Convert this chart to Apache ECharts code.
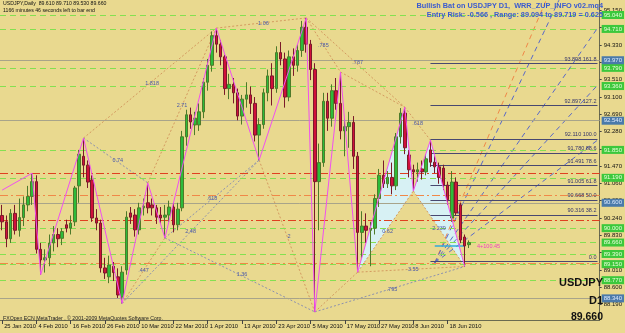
<!DOCTYPE html>
<html><head><meta charset="utf-8">
<script src="https://cdn.jsdelivr.net/npm/echarts@6/dist/echarts.min.js"></script>
<style>html,body{margin:0;padding:0;background:#E9D98F}#c{width:625px;height:333px}</style>
</head><body><div id="c"></div>
<script>
// ---- data ----
const startDate = '2010-01-25';
const slotCount = 140; // bars + right shift space
// OHLC (open, high, low, close) per daily bar from 25 Jan 2010
const opens  = [90.30,90.15,89.75,90.35,89.95,90.25,90.55,90.75,91.10,89.50,89.25,89.30,89.65,89.85,89.76,90.08,90.00,90.15,91.00,91.70,91.49,91.14,90.24,90.12,89.06,88.85,89.10,88.85,88.37,89.01,90.36,90.31,89.96,90.48,90.60,90.55,90.48,90.31,90.26,90.31,90.50,90.08,90.48,92.16,92.68,92.44,92.44,92.75,93.45,93.85,94.55,94.35,94.05,93.30,93.40,93.20,92.65,93.05,93.15,92.95,92.20,92.45,93.20,93.60,93.30,94.15,94.00,93.10,94.05,93.85,94.20,94.75,94.35,93.75,91.10,91.55,93.00,92.60,93.25,92.95,92.30,92.40,92.50,91.70,89.90,90.05,89.95,90.00,90.70,91.25,91.05,91.20,91.00,92.16,92.72,91.73,91.38,91.33,91.40,91.33,91.85,91.56,91.45,91.42,91.02,90.24,91.09,90.55,89.79,89.61];
const highs  = [90.55,90.30,90.45,90.55,90.70,90.75,91.00,91.30,91.25,89.65,89.50,89.85,90.05,90.00,90.00,90.20,90.30,91.00,91.85,92.13,91.60,91.25,90.45,90.20,89.30,89.35,89.20,89.05,89.10,90.40,90.50,90.45,90.60,90.70,91.07,90.70,90.55,90.50,90.55,90.65,90.60,90.60,92.30,92.80,92.85,92.75,92.95,93.55,94.00,94.65,94.73,94.45,94.10,93.65,93.55,93.30,93.15,93.45,93.35,93.10,92.60,93.30,93.75,93.90,94.30,94.40,94.15,94.20,94.25,94.35,94.90,94.97,94.45,93.90,92.00,93.20,93.20,93.40,93.55,93.69,92.60,92.75,92.65,91.80,90.40,90.35,90.15,90.80,91.40,91.60,91.35,91.55,92.25,92.84,92.86,91.85,91.50,91.55,91.60,91.75,92.08,91.70,91.55,91.50,91.10,91.35,91.20,90.60,89.85,89.71];
const lows   = [89.95,89.55,89.65,89.85,89.80,90.05,90.40,90.55,89.40,88.90,88.95,89.10,89.45,89.55,89.60,89.90,89.85,90.05,90.60,91.20,90.95,90.15,89.95,88.95,88.80,88.70,88.75,88.35,88.22,88.90,90.10,89.80,89.85,90.30,90.35,90.30,90.10,90.10,89.77,90.15,89.90,89.95,90.40,91.95,92.35,92.20,92.30,92.60,93.25,93.70,94.15,93.85,93.15,93.05,92.95,92.55,92.45,92.85,92.70,92.05,91.61,92.35,93.00,92.90,93.20,93.85,92.85,93.00,93.60,93.70,94.05,94.15,93.50,88.02,89.95,91.45,92.30,92.40,92.80,92.10,91.70,91.90,91.40,88.96,89.30,89.65,89.10,89.85,90.50,90.95,90.95,90.80,90.90,92.00,91.75,91.20,90.88,91.10,91.15,91.25,91.45,91.30,91.05,90.90,90.55,90.15,90.30,89.65,89.094,89.53];
const closes = [90.15,89.75,90.35,89.95,90.25,90.55,90.75,91.10,89.50,89.25,89.30,89.65,89.85,89.75,89.92,90.00,90.12,90.95,91.75,91.49,91.09,90.24,90.12,89.06,88.94,89.13,88.95,88.42,88.96,90.26,90.26,89.96,90.48,90.52,90.48,90.48,90.26,90.24,90.31,90.50,90.08,90.45,92.16,92.68,92.51,92.60,92.75,93.45,93.85,94.55,94.35,94.05,93.30,93.40,93.20,92.65,93.05,93.15,92.95,92.20,92.45,93.20,93.60,93.30,94.15,94.00,93.10,94.05,93.85,94.20,94.75,94.35,93.75,91.10,91.55,93.00,92.60,93.25,92.95,92.30,92.40,92.50,91.70,89.90,90.05,89.95,90.00,90.70,91.25,91.05,91.20,91.00,92.16,92.72,91.90,91.38,91.33,91.38,91.33,91.64,91.56,91.45,91.20,91.02,90.67,91.09,90.36,89.72,89.58,89.66];
// ZigZag pivots (bar index, price)
const zzIdx   = [0,7,9,19,28,34,38,50,60,71,73,79,83,94,96,100,108];
const zzPrice = [90.90,91.30,88.90,92.13,88.22,91.07,89.77,94.73,91.61,94.97,88.02,93.69,88.96,92.86,90.88,92.08,89.094];
// bat pattern points X A B C D as ZigZag pivot numbers
const batPivots = [12,13,14,15,16];
// ZUP ratio lines: from pivot, to pivot, label
const ratioFrom  = [3,4,5,6,7,8,9,10,11,12,13,14,3,4,6,9,12,10];
const ratioTo    = [5,6,7,8,9,10,11,12,13,14,15,16,7,8,10,13,16,16];
const ratioText  = ['0.74','.447','2.71','.618','1.06','2','.785','','','0.62','.618','2.239','1.818','2.48','1.36','.787','3.55','.795'];
const ratioBlue  = [1,0,0,1,0,0,0,0,0,0,0,0,0,1,1,0,0,1];
// price axis tick labels
const priceTicks = [95.150,94.740,94.330,93.920,93.510,93.100,92.690,92.280,91.870,91.470,91.060,90.650,90.240,89.830,89.420,89.010,88.600,88.190];
// horizontal levels
const greenLevels = [95.04,94.71,93.79,93.36,91.85,91.19,90.00,89.39,89.15,88.77,87.81];
const bidLevel = 89.660;
const grayLevels = [93.97,92.54,90.60,88.34];
const redLevels = [91.31,90.19];
const orangeLevels = [90.78,89.17];
const fibPrices = [93.898,92.897,92.110,91.780,91.491,91.005,90.668,90.316,89.217];
const fibTexts  = ['93.898 161.8','92.897 127.2','92.110 100.0','91.780 88.6','91.491 78.6','91.005 61.8','90.668 50.0','90.316 38.2','0.0'];
const fibStart = 100;
// dashed fan lines [i1,p1,i2,p2]
const orangeRays = [[100.6,89.18,126.7,95.39]];
const blueRays = [[100.6,89.18,130.4,95.39],[100.6,89.18,139.4,94.73],[100.6,89.18,139.4,93.38],[100.6,89.18,139.4,92.08]];
// entry marker near D
const entryLine = [100.6,108.2,89.58];
const entryText = '4+100.45';

// ---- build ----
const mon = ['Jan','Feb','Mar','Apr','May','Jun','Jul','Aug','Sep','Oct','Nov','Dec'];
const categories = [];
{ let d = new Date(startDate+'T12:00:00Z');
  while (categories.length < slotCount) {
    const wd = d.getUTCDay();
    if (wd !== 0 && wd !== 6) categories.push(d.getUTCDate()+' '+mon[d.getUTCMonth()]+' '+d.getUTCFullYear());
    d = new Date(d.getTime()+86400000);
  } }
const barCount = opens.length;
const ohlc = opens.map((o,i)=>[o, closes[i], lows[i], highs[i]]);
const zz = zzIdx.map((x,i)=>[x, zzPrice[i]]);
const bat = batPivots.map(k=>zz[k]);
const tris = [[bat[0],bat[1],bat[2]],[bat[2],bat[3],bat[4]]];
const F = 'Liberation Sans, Arial, sans-serif';
const lastIdx = slotCount-1;

const hl = (p, color, type) => ({yAxis:p, lineStyle:{color, type, width:1}, label:{show:false}});
const boxLabel = (p,bg,fg)=>({show:true,position:'end',distance:2,formatter:p.toFixed(3),color:fg,backgroundColor:bg,fontSize:6,fontFamily:F,padding:[1,2]});
const markData = [];
greenLevels.forEach(p=>markData.push({yAxis:p, lineStyle:{color:'#84E050',type:[6,4],width:1}, label:boxLabel(p,'#3CC83C','#E8FFD8')}));
markData.push({yAxis:bidLevel, lineStyle:{color:'#84E050',type:[6,4],width:1}, label:boxLabel(bidLevel,'#3CC83C','#E8FFD8')});
grayLevels.forEach(p=>markData.push({yAxis:p, lineStyle:{color:'#A8A48A',type:'solid',width:1}, label:boxLabel(p,'#4A7AAA','#E0ECFF')}));
redLevels.forEach(p=>markData.push(hl(p,'#E04020',[8,3,2,3])));
orangeLevels.forEach(p=>markData.push(hl(p,'#F08848',[8,3,2,3])));
fibPrices.forEach((p,i)=>markData.push([
  {coord:[fibStart,p], lineStyle:{color:'#484870',type:'solid',width:1},
   label:{show:true,position:'insideEndTop',formatter:fibTexts[i],color:'#34346A',fontSize:5.5,fontFamily:F,distance:1}},
  {coord:[lastIdx,p]}]));
markData.push([{coord:[entryLine[0],entryLine[2]], lineStyle:{color:'#30A8D8',type:'solid',width:1.5}, label:{show:false}},{coord:[entryLine[1],entryLine[2]]}]);

const rayLine = (r,color)=>({type:'line', data:[[r[0],r[1]],[r[2],r[3]]], symbol:'none', silent:true,
  lineStyle:{color, type:[5,4], width:1}, z:3});
const ratioSeries = ratioFrom.map((a,j)=>({type:'line', data:[zz[a], zz[ratioTo[j]]], symbol:'none', silent:true, z:2,
  lineStyle:{color: ratioBlue[j] ? '#8A90B0' : '#D49A60', type:[2,2], width:1},
  markPoint: ratioText[j] ? {symbol:'rect', symbolSize:0, silent:true,
    data:[{coord:[(zz[a][0]+zz[ratioTo[j]][0])/2,(zz[a][1]+zz[ratioTo[j]][1])/2],
      label:{show:true, formatter:ratioText[j], color:'#4A58A8', fontSize:5.5, fontFamily:F}}]} : undefined}));

const option = {
  animation:false,
  backgroundColor:'#E9D98F',
  grid:{left:-1.2, top:0, width:606.8, height:320, show:false},
  xAxis:{type:'category', data:categories, boundaryGap:true,
    axisLine:{show:true,lineStyle:{color:'#6A6A50'}},
    axisTick:{show:true, interval:(i)=>i%8===0 && i<barCount, length:4, alignWithLabel:true, lineStyle:{color:'#444'}},
    axisLabel:{interval:(i)=>i%8===0 && i<barCount, showMinLabel:true, hideOverlap:false, fontSize:5.8, fontFamily:F, color:'#111', margin:3, align:'left', padding:[0,0,0,2]},
    splitLine:{show:false}},
  yAxis:{type:'value', position:'right', min:87.829, max:95.394, scale:true,
    axisLine:{show:true, lineStyle:{color:'#6A6A50'}},
    axisTick:{show:true, length:2, customValues:priceTicks, lineStyle:{color:'#444'}},
    axisLabel:{customValues:priceTicks, formatter:(v)=>v.toFixed(3), fontSize:6, fontFamily:F, color:'#111', margin:4},
    splitLine:{show:false}},
  series:[
    {type:'custom', z:1, silent:true, data:[0,1], renderItem:(params,api)=>{
      const pts = tris[params.dataIndex].map(p=>api.coord(p));
      return {type:'polygon', shape:{points:pts}, style:{fill:'#D7F1F4'}};
    }},
    {type:'line', data:[], symbol:'none', silent:true, z:2, markLine:{symbol:'none', silent:true, animation:false, data:markData}},
    ...ratioSeries,
    {type:'candlestick', data:ohlc, z:5, barWidth:3,
      itemStyle:{color:'#2DBB3A', color0:'#D0103A', borderColor:'#4E7A2A', borderColor0:'#7A1A2A', borderWidth:1}},
    {type:'line', data:zz, symbol:'none', z:6, silent:true, lineStyle:{color:'#F050F0', width:1}},
    ...orangeRays.map(r=>rayLine(r,'#F08848')),
    ...blueRays.map(r=>rayLine(r,'#5868C8')),
  ],
  graphic:[
    {type:'text', x:3, y:1, z:100, style:{text:'USDJPY,Daily  89.610 89.710 89.530 89.660', fontSize:5.2, fontFamily:F, fill:'#111'}},
    {type:'text', x:3, y:8, z:100, style:{text:'1166 minutes 46 seconds left to bar end', fontSize:5.2, fontFamily:F, fill:'#111'}},
    {type:'text', x:603, y:2, z:100, style:{text:'Bullish Bat on USDJPY D1,  WRR_ZUP_INFO v02.mq4', textAlign:'right', fontSize:7.3, fontWeight:'bold', fontFamily:F, fill:'#3A5AD0'}},
    {type:'text', x:603, y:11, z:100, style:{text:'Entry Risk: -0.566 , Range: 89.094 to 89.719 = 0.625', textAlign:'right', fontSize:7.3, fontWeight:'bold', fontFamily:F, fill:'#3A5AD0'}},
    {type:'text', x:603, y:277, z:100, style:{text:'USDJPY', textAlign:'right', fontSize:11, fontWeight:'bold', fontFamily:F, fill:'#111'}},
    {type:'text', x:603, y:295, z:100, style:{text:'D1', textAlign:'right', fontSize:11, fontWeight:'bold', fontFamily:F, fill:'#111'}},
    {type:'text', x:603, y:312, z:100, style:{text:'89.660', textAlign:'right', fontSize:10.5, fontWeight:'bold', fontFamily:F, fill:'#111'}},
    {type:'text', x:3, y:316, z:100, style:{text:'FXOpen ECN MetaTrader , © 2001-2009 MetaQuotes Software Corp.', fontSize:5.2, fontFamily:F, fill:'#222'}},
    {type:'text', x:477, y:243, z:100, style:{text:entryText, fontSize:5.5, fontFamily:F, fill:'#F040C0'}},
  ]
};
echarts.init(document.getElementById('c'), null, {renderer:'canvas'}).setOption(option);
</script></body></html>
